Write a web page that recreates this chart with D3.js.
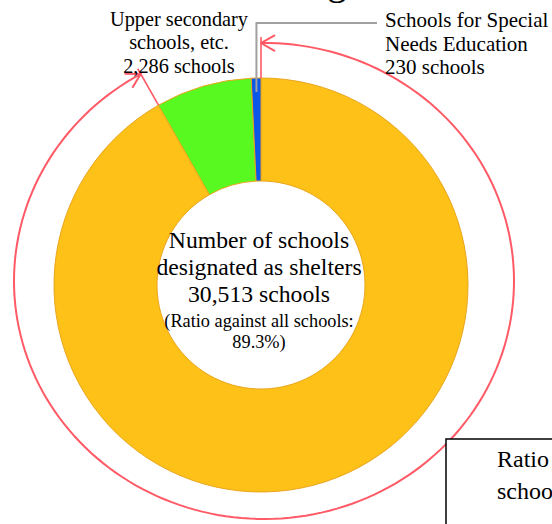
<!DOCTYPE html>
<html>
<head>
<meta charset="utf-8">
<script src="https://cdn.jsdelivr.net/npm/d3@7"></script>
<style>
  body { margin: 0; background: #fff; }
  svg { display: block; font-family: "Liberation Serif", "Times New Roman", serif; }
</style>
</head>
<body>
<div id="chart"></div>
<script>
(function() {
    'use strict';

    // data
    var categories = ["Elementary and lower secondary schools", "Upper secondary schools, etc.", "Schools for Special Needs Education"];
    var schoolCounts = [27997, 2286, 230];
    var segmentColors = ["#fdc118", "#58f920", "#0b58e8"];

    var upperLabel = ["Upper secondary", "schools, etc.", "2,286 schools"];
    var specialLabel = ["Schools for Special", "Needs Education", "230 schools"];
    var centerLines = ["Number of schools", "designated as shelters"];
    var ratioLines = ["(Ratio against all schools:", "89.3%)"];
    var boxLines = ["Ratio against all", "schools"];

    var width = 552, height = 524;
    var cx = 261, cy = 285;
    var outerR = 207, innerR = 104;
    // the red bracket circle is slightly oval in the picture
    var ell = {cx: 264, cy: 281, rx: 250, ry: 238};
    var red = "#ff5a66";

    var svg = d3.select("#chart").append("svg")
        .attr("width", width)
        .attr("height", height);

    var defs = svg.append("defs");
    defs.append("marker")
        .attr("id", "chev")
        .attr("viewBox", "0 0 16 18")
        .attr("refX", 15).attr("refY", 9)
        .attr("markerWidth", 16).attr("markerHeight", 18)
        .attr("markerUnits", "userSpaceOnUse")
        .attr("orient", "auto-start-reverse")
        .append("path")
        .attr("d", "M1,1 L15,9 L1,17")
        .attr("fill", "none")
        .attr("stroke", red)
        .attr("stroke-width", 2);

    // cut-off title above the picture, only a descender shows
    svg.append("text")
        .attr("x", 327).attr("y", -6)
        .attr("font-size", 40)
        .text("g");

    var pie = d3.pie().sort(null).value(function(d) { return d; });
    var arcs = pie(schoolCounts);
    var arc = d3.arc().innerRadius(innerR).outerRadius(outerR);

    var g = svg.append("g").attr("transform", "translate(" + cx + "," + cy + ")");

    g.selectAll("path.seg")
        .data(arcs)
        .enter().append("path")
        .attr("class", "seg")
        .attr("d", arc)
        .attr("fill", function(d, i) { return segmentColors[i]; })
        .attr("stroke", "#eaa51e")
        .attr("stroke-width", 1)
        .append("title").text(function(d, i) { return categories[i] + ": " + d.value; });

    // point on a ray from the donut centre at angle a (0 = up, clockwise)
    function onRay(a, r) {
        return [cx + r * Math.sin(a), cy - r * Math.cos(a)];
    }
    // where that ray meets the oval
    function hitEllipse(a) {
        var dx = Math.sin(a), dy = -Math.cos(a);
        var ox = cx - ell.cx, oy = cy - ell.cy;
        var A = dx * dx / (ell.rx * ell.rx) + dy * dy / (ell.ry * ell.ry);
        var B = 2 * (ox * dx / (ell.rx * ell.rx) + oy * dy / (ell.ry * ell.ry));
        var C = ox * ox / (ell.rx * ell.rx) + oy * oy / (ell.ry * ell.ry) - 1;
        return (-B + Math.sqrt(B * B - 4 * A * C)) / (2 * A);
    }
    function ellParam(p) {
        return Math.atan2((p[0] - ell.cx) / ell.rx, -(p[1] - ell.cy) / ell.ry);
    }

    // red bracket around the elementary / lower secondary share
    var a0 = arcs[0].startAngle, a1 = arcs[0].endAngle;
    var t0 = hitEllipse(a0), t1 = hitEllipse(a1);
    var p0 = onRay(a0, t0), p1 = onRay(a1, t1);
    var phi0 = ellParam(p0), phi1 = ellParam(p1);
    if (phi1 < phi0) phi1 += 2 * Math.PI;
    var phis = d3.range(0, 181).map(function(i) { return phi0 + (phi1 - phi0) * i / 180; });
    var ellPts = phis.map(function(f) {
        return [ell.cx + ell.rx * Math.sin(f), ell.cy - ell.ry * Math.cos(f)];
    });

    svg.append("path")
        .attr("d", d3.line()(ellPts))
        .attr("fill", "none")
        .attr("stroke", red)
        .attr("stroke-width", 2)
        .attr("marker-start", "url(#chev)")
        .attr("marker-end", "url(#chev)");

    [[a0, t0], [a1, t1]].forEach(function(e) {
        svg.append("path")
            .attr("d", d3.line()([onRay(e[0], outerR), onRay(e[0], e[1] + 6)]))
            .attr("stroke", red)
            .attr("stroke-width", 1.6)
            .attr("fill", "none");
    });

    // grey leader to the special needs label
    var blueMid = (arcs[2].startAngle + arcs[2].endAngle) / 2;
    var lb = onRay(blueMid, outerR - 14);
    svg.append("path")
        .attr("d", d3.line()([lb, [lb[0], 23], [377, 23]]))
        .attr("fill", "none")
        .attr("stroke", "#a0a0a0")
        .attr("stroke-width", 2);

    // labels
    function block(lines, x, y, step, size, anchor) {
        var t = svg.append("text")
            .attr("font-size", size)
            .attr("text-anchor", anchor)
            .attr("fill", "#000");
        lines.forEach(function(s, i) {
            t.append("tspan").attr("x", x).attr("y", y + i * step).text(s);
        });
        return t;
    }

    block(upperLabel, 179, 26, 23.3, 20.3, "middle");
    block(specialLabel, 385, 27, 23.5, 21, "start");

    var total = d3.sum(schoolCounts);
    block(centerLines.concat([d3.format(",")(total) + " schools"]), 259, 248, 27, 23.7, "middle");
    block(ratioLines, 259, 327, 21, 18.3, "middle");

    // box at lower right, cut by the picture edge
    svg.append("rect")
        .attr("x", 446).attr("y", 439)
        .attr("width", 200).attr("height", 200)
        .attr("fill", "#fff")
        .attr("stroke", "#000")
        .attr("stroke-width", 1.5);
    block(boxLines, 497, 467, 32, 24, "start");
})();
</script>
</body>
</html>
